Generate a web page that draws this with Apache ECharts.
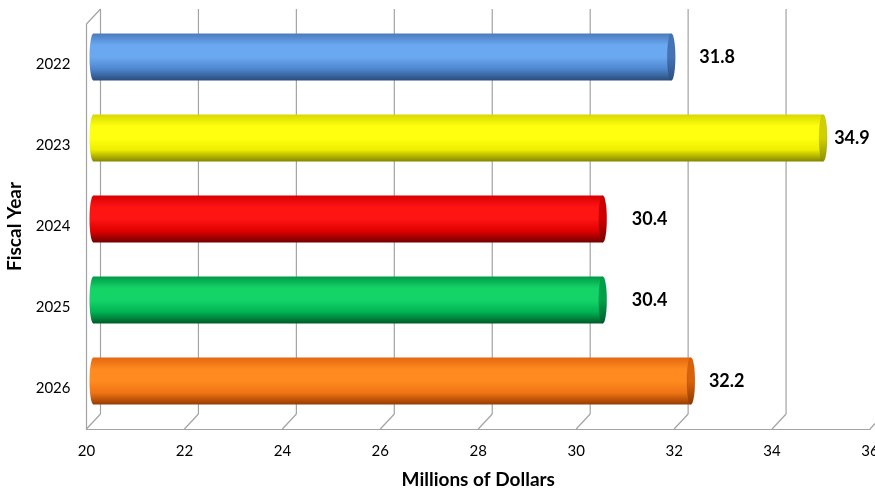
<!DOCTYPE html>
<html>
<head>
<meta charset="utf-8">
<script src="https://cdn.jsdelivr.net/npm/echarts@6/dist/echarts.min.js"></script>
<style>
  html, body { margin: 0; padding: 0; background: #fff; overflow: hidden; }
  #chart { width: 875px; height: 491px; }
</style>
</head>
<body>
<div id="chart"></div>
<script>
// Fiscal years (top to bottom) and amounts in millions of dollars
const years = ['2022', '2023', '2024', '2025', '2026'];
const amounts = [31.8, 34.9, 30.4, 30.4, 32.2];
const xTicks = [20, 22, 24, 26, 28, 30, 32, 34, 36];

// Cylinder shading per bar: [top edge, highlight, lower body, bottom edge, cap light, cap dark]
const shades = [
  ['#4a7bbd', '#6aa9f1', '#4f87cf', '#2a4c7c', '#4574b4', '#2b4f80'],
  ['#d8d800', '#ffff10', '#eeee00', '#858500', '#d0d000', '#8f8f00'],
  ['#d80000', '#ff1414', '#e00000', '#740000', '#cc0000', '#7a0000'],
  ['#009a46', '#14d468', '#00b553', '#005a2a', '#00a04a', '#005c2c'],
  ['#e2680e', '#ff8a20', '#f07414', '#963c00', '#d8620c', '#8e3a00']
];
// horizontal distance from the cap to each value label
const labelGaps = [24, 7, 25, 25, 14];

const FONT = 'Lato, "Open Sans", sans-serif';
const GRID_COLOR = '#a3a3a3';
// depth offsets: back wall, and the bars sitting mid-depth
const BACK_DX = 14, BACK_DY = -15;
const BAR_DX = 7, BAR_DY = -7.5;

const chart = echarts.init(document.getElementById('chart'), null, { width: 875, height: 491 });

function grad(stops) {
  return new echarts.graphic.LinearGradient(0, 0, 0, 1,
    stops.map((c, i) => ({ offset: i / (stops.length - 1), color: c })));
}

// back wall gridlines, floor ticks and the top-left edge of the box
function renderFrame(params, api) {
  const cs = params.coordSys;
  const top = cs.y, bottom = cs.y + cs.height;
  const lineStyle = { stroke: GRID_COLOR, lineWidth: 1.2, fill: null };
  const children = [];
  xTicks.forEach(t => {
    const x = api.coord([t, 0])[0];
    children.push({
      type: 'line', silent: true,
      shape: { x1: x + BACK_DX, y1: top + BACK_DY, x2: x + BACK_DX, y2: bottom + BACK_DY },
      style: lineStyle
    });
    children.push({
      type: 'line', silent: true,
      shape: { x1: x, y1: bottom, x2: x + BACK_DX, y2: bottom + BACK_DY },
      style: lineStyle
    });
  });
  const x0 = api.coord([xTicks[0], 0])[0];
  children.push({
    type: 'line', silent: true,
    shape: { x1: x0, y1: top, x2: x0 + BACK_DX, y2: top + BACK_DY },
    style: lineStyle
  });
  return { type: 'group', children };
}

// one shaded cylinder per fiscal year with its value label
function renderBar(params, api) {
  const idx = api.value(0);
  const val = api.value(1);
  const s = shades[idx];
  const start = api.coord([xTicks[0], idx]);
  const end = api.coord([val, idx]);
  const band = api.size([0, 1])[1];
  const h = band * 0.58;
  const cy = start[1] + BAR_DY;
  const x0 = start[0] + BAR_DX;
  const x1 = end[0] + BAR_DX;
  const rx = 4;
  return {
    type: 'group',
    children: [
      {
        type: 'ellipse',
        shape: { cx: x0, cy: cy, rx: rx, ry: h / 2 },
        style: { fill: grad([s[0], s[1], s[1], s[2], s[3]]) }
      },
      {
        type: 'rect',
        shape: { x: x0, y: cy - h / 2, width: x1 - x0, height: h },
        style: { fill: grad([s[0], s[1], s[1], s[2], s[3]]) }
      },
      {
        type: 'ellipse',
        shape: { cx: x1, cy: cy, rx: rx, ry: h / 2 },
        style: { fill: grad([s[4], s[4], s[5]]), stroke: 'rgba(0,0,0,0.12)', lineWidth: 0.6 }
      },
      {
        type: 'text',
        style: {
          x: x1 + rx + labelGaps[idx], y: cy,
          text: val.toFixed(1),
          font: 'bold 18px ' + FONT,
          fill: '#000',
          verticalAlign: 'middle', align: 'left'
        }
      }
    ]
  };
}

chart.setOption({
  animation: false,
  backgroundColor: '#ffffff',
  grid: { left: 86.5, right: 5, top: 24, bottom: 62, containLabel: false, outerBoundsMode: 'none' },
  xAxis: {
    type: 'value',
    min: xTicks[0],
    max: xTicks[xTicks.length - 1],
    interval: 2,
    name: 'Millions of Dollars',
    nameLocation: 'middle',
    nameGap: 41,
    nameTextStyle: { fontFamily: FONT, fontWeight: 'bold', fontSize: 19, color: '#000' },
    axisLine: { show: true, lineStyle: { color: GRID_COLOR, width: 1.2 } },
    axisTick: { show: false },
    splitLine: { show: false },
    axisLabel: { fontFamily: FONT, fontSize: 15, color: '#000', margin: 15 }
  },
  yAxis: {
    type: 'category',
    data: years,
    inverse: true,
    name: 'Fiscal Year',
    nameLocation: 'middle',
    nameGap: 54,
    nameRotate: 90,
    nameTextStyle: { fontFamily: FONT, fontWeight: 'bold', fontSize: 19, color: '#000' },
    axisLine: { show: true, lineStyle: { color: GRID_COLOR, width: 1.2 } },
    axisTick: { show: false },
    splitLine: { show: false },
    axisLabel: { fontFamily: FONT, fontSize: 15, color: '#000', margin: 16 }
  },
  series: [
    {
      type: 'custom',
      name: 'frame',
      silent: true,
      z: 1,
      renderItem: renderFrame,
      data: [[0, xTicks[0]]],
      encode: { x: 1, y: 0 }
    },
    {
      type: 'custom',
      name: 'Amount',
      z: 3,
      renderItem: renderBar,
      data: amounts.map((v, i) => [i, v]),
      encode: { x: 1, y: 0 }
    }
  ]
});
</script>
</body>
</html>
